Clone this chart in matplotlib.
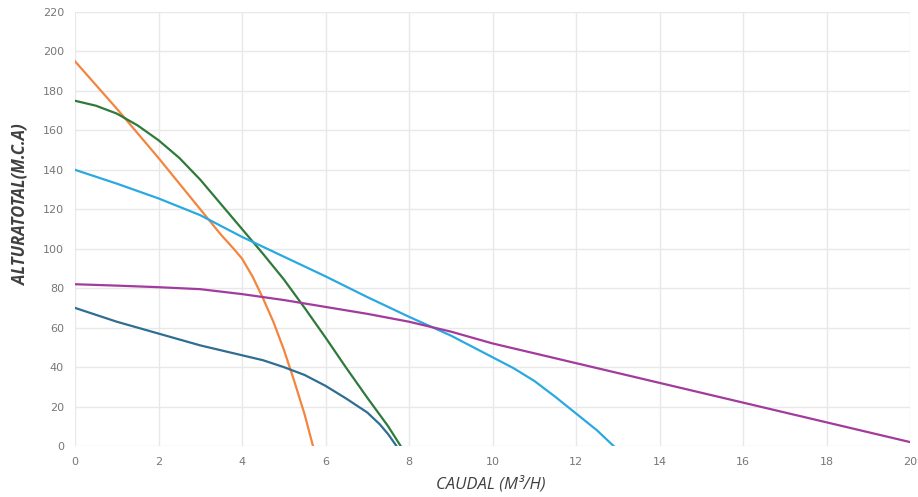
import matplotlib
matplotlib.use("Agg")
import matplotlib.pyplot as plt

# pump curves: caudal (m3/h) vs altura total (m.c.a)
orange_x = [0, 1, 2, 3, 3.5, 3.8, 4, 4.25, 4.5, 4.75, 5, 5.25, 5.5, 5.7]
orange_y = [195, 171, 146, 120, 107, 100, 95, 86, 75, 63, 49, 33, 16, 0]

green_x = [0, 0.5, 1, 1.5, 2, 2.5, 3, 3.5, 4, 4.5, 5, 5.5, 6, 6.5, 7, 7.5, 7.8]
green_y = [175, 172.5, 168.5, 162.5, 155, 146, 135, 122.5, 110, 97.5, 84.5, 70, 55, 39.5, 24.5, 10, 0]

blue_x = [0, 1, 2, 3, 4, 5, 6, 7, 8, 9, 10, 10.5, 11, 11.5, 12, 12.5, 12.9]
blue_y = [140, 133, 125.5, 117, 106, 96, 86, 75.5, 65.5, 56, 45, 39.5, 33, 25, 16.5, 8, 0]

purple_x = [0, 1, 2, 3, 4, 5, 6, 7, 8, 9, 10, 12, 14, 16, 18, 20]
purple_y = [82, 81.3, 80.5, 79.5, 77, 74, 70.5, 67, 63, 58, 52, 42, 32, 22, 12, 2]

dark_x = [0, 1, 2, 3, 4, 4.5, 5, 5.5, 6, 6.5, 7, 7.3, 7.5, 7.7]
dark_y = [70, 63, 57, 51, 46, 43.5, 40, 36, 30.5, 24, 17, 11, 6, 0]

x_ticks = list(range(0, 21, 2))
y_ticks = list(range(0, 221, 20))

fig = plt.figure(figsize=(9.18, 4.97), dpi=100)
ax = fig.add_axes([0.0817, 0.1026, 0.9096, 0.8733])

ax.plot(orange_x, orange_y, color="#f3853f", lw=1.6)
ax.plot(green_x, green_y, color="#2f7a3b", lw=1.6)
ax.plot(blue_x, blue_y, color="#2aa9e1", lw=1.6)
ax.plot(purple_x, purple_y, color="#a23b9c", lw=1.6)
ax.plot(dark_x, dark_y, color="#2f6e92", lw=1.6)

ax.set_xlim(0, 20)
ax.set_ylim(0, 220)
ax.set_xticks(x_ticks)
ax.set_yticks(y_ticks)
ax.grid(True, color="#e8e8e8", lw=1)
ax.set_axisbelow(True)
for s in ax.spines.values():
    s.set_visible(False)
ax.tick_params(length=0, labelsize=8, colors="#777777", pad=8)

ax.set_xlabel("CAUDAL (M³/H)", fontsize=12, style="italic", color="#404040",
              family="Open Sans")
ax.xaxis.set_label_coords(0.498, -0.068)
ax.set_ylabel("ALTURATOTAL(M.C.A)", fontsize=12, style="italic", weight="bold",
              color="#404040", family="Open Sans")
ax.yaxis.set_label_coords(-0.055, 0.555)

fig.savefig("out.png", dpi=100)
